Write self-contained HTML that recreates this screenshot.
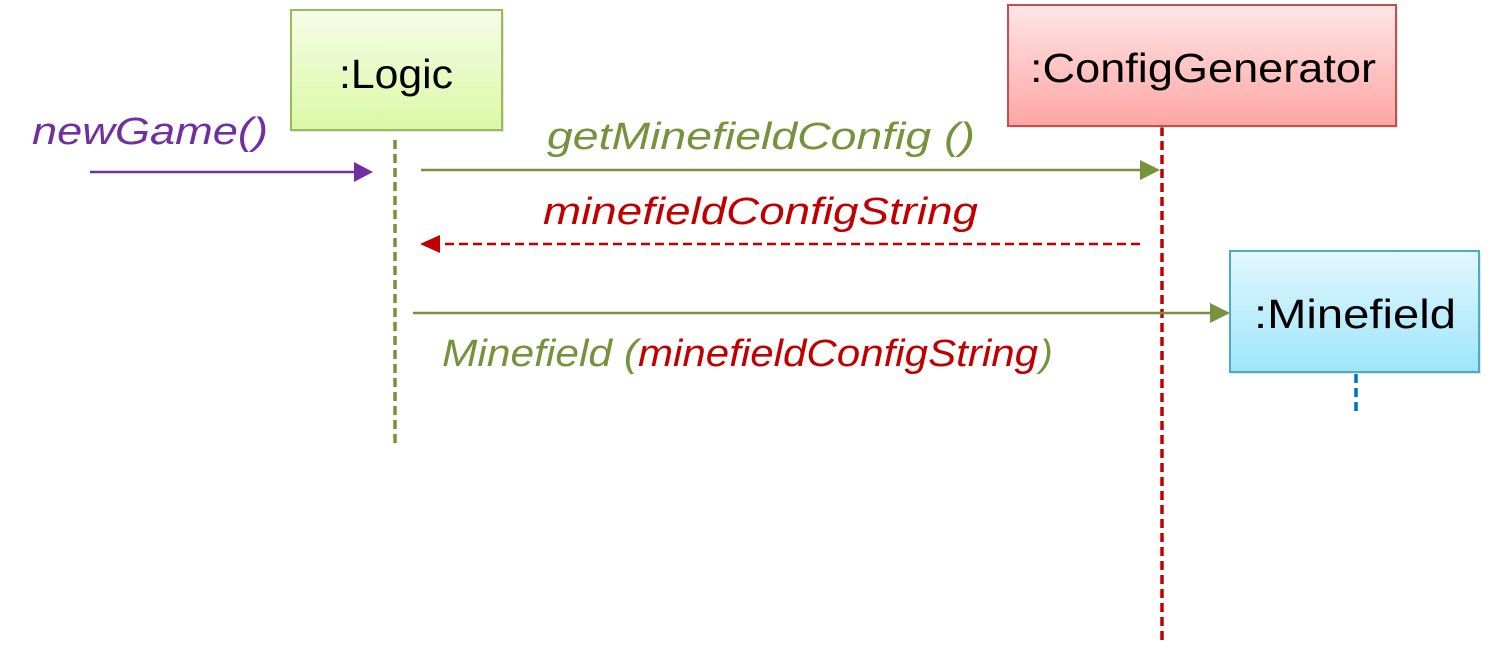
<!DOCTYPE html>
<html><head><meta charset="utf-8"><style>
html,body{margin:0;padding:0;background:#fff;}
svg{display:block;font-family:"Liberation Sans",sans-serif;}
</style></head><body>
<svg width="1494" height="655" viewBox="0 0 1494 655" xmlns="http://www.w3.org/2000/svg">
<defs>
<linearGradient id="g1" x1="0" y1="0" x2="0" y2="1"><stop offset="0" stop-color="#f6fde8"/><stop offset="1" stop-color="#dbf8a6"/></linearGradient>
<linearGradient id="g2" x1="0" y1="0" x2="0" y2="1"><stop offset="0" stop-color="#ffe6e6"/><stop offset="1" stop-color="#fda6a4"/></linearGradient>
<linearGradient id="g3" x1="0" y1="0" x2="0" y2="1"><stop offset="0" stop-color="#e2f7fd"/><stop offset="1" stop-color="#9fe6fb"/></linearGradient>
</defs>
<line x1="395" y1="140" x2="395" y2="445" stroke="#76923c" stroke-width="3.5" stroke-dasharray="9,5"/>
<line x1="1162" y1="127" x2="1162" y2="640" stroke="#c00000" stroke-width="3.5" stroke-dasharray="9,5"/>
<line x1="1356" y1="374" x2="1356" y2="415" stroke="#0070c0" stroke-width="3.5" stroke-dasharray="9,5"/>
<rect x="293" y="12" width="211" height="120" fill="#ccc" opacity="0.5"/>
<rect x="291" y="10" width="211" height="120" fill="url(#g1)" stroke="#9bbb59" stroke-width="2"/>
<text x="396" y="88" font-size="41" text-anchor="middle" textLength="114" lengthAdjust="spacingAndGlyphs">:Logic</text>
<rect x="1010" y="7" width="388" height="121" fill="#ccc" opacity="0.5"/>
<rect x="1008" y="5" width="388" height="121" fill="url(#g2)" stroke="#c0504d" stroke-width="2"/>
<text x="1203" y="82" font-size="41" text-anchor="middle" textLength="346" lengthAdjust="spacingAndGlyphs">:ConfigGenerator</text>
<rect x="1232" y="253" width="249" height="121" fill="#ccc" opacity="0.5"/>
<rect x="1230" y="251" width="249" height="121" fill="url(#g3)" stroke="#4bacc6" stroke-width="2"/>
<text x="1355" y="328" font-size="41" text-anchor="middle" textLength="202" lengthAdjust="spacingAndGlyphs">:Minefield</text>
<line x1="90" y1="172" x2="356" y2="172" stroke="#7030a0" stroke-width="2.5"/>
<polygon points="373,172 354,162 354,182" fill="#7030a0"/>
<line x1="421" y1="170" x2="1142" y2="170" stroke="#76923c" stroke-width="2.5"/>
<polygon points="1160,170 1140,160 1140,180" fill="#76923c"/>
<line x1="1140" y1="244" x2="438" y2="244" stroke="#c00000" stroke-width="2.5" stroke-dasharray="9,5"/>
<polygon points="420,244 440,235 440,253" fill="#c00000"/>
<line x1="413" y1="313" x2="1212" y2="313" stroke="#76923c" stroke-width="2.5"/>
<polygon points="1230,313 1210,303 1210,323" fill="#76923c"/>
<text x="32" y="144" font-size="38" font-style="italic" fill="#7030a0" textLength="236" lengthAdjust="spacingAndGlyphs">newGame()</text>
<text x="547" y="149" font-size="38" font-style="italic" fill="#76923c" textLength="428" lengthAdjust="spacingAndGlyphs">getMinefieldConfig ()</text>
<text x="543" y="224" font-size="38" font-style="italic" fill="#c00000" textLength="435" lengthAdjust="spacingAndGlyphs">minefieldConfigString</text>
<text x="442" y="366" font-size="38" font-style="italic" fill="#76923c" textLength="196" lengthAdjust="spacingAndGlyphs">Minefield (</text>
<text x="638" y="366" font-size="38" font-style="italic" fill="#c00000" textLength="400" lengthAdjust="spacingAndGlyphs">minefieldConfigString</text>
<text x="1040" y="366" font-size="38" font-style="italic" fill="#76923c">)</text>
</svg>
</body></html>
